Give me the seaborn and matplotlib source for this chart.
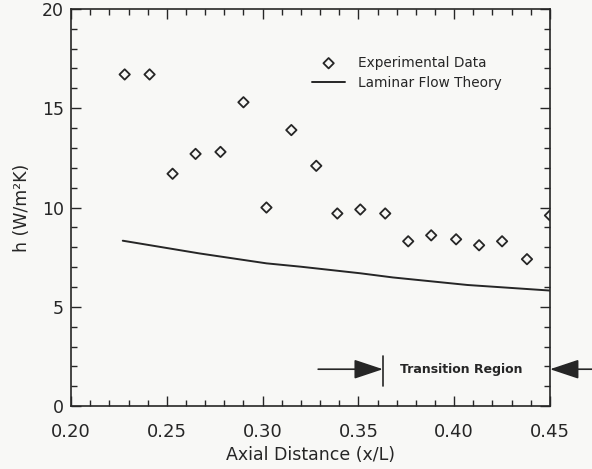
import matplotlib
matplotlib.use('Agg')
import matplotlib.pyplot as plt
import seaborn as sns
import pandas as pd
from matplotlib.ticker import MultipleLocator, FormatStrFormatter

# experimental points
exp_x = [0.228, 0.241, 0.253, 0.265, 0.278, 0.290, 0.302, 0.315, 0.328, 0.339,
         0.351, 0.364, 0.376, 0.388, 0.401, 0.413, 0.425, 0.438, 0.450]
exp_h = [16.7, 16.7, 11.7, 12.7, 12.8, 15.3, 10.0, 13.9, 12.1, 9.7,
         9.9, 9.7, 8.3, 8.6, 8.4, 8.1, 8.3, 7.4, 9.6]

# laminar flow theory curve
theory_x = [0.227, 0.267, 0.302, 0.320, 0.351, 0.368, 0.407, 0.450]
theory_h = [8.33, 7.69, 7.19, 7.02, 6.69, 6.48, 6.10, 5.82]

# transition region marker
trans_start = 0.3628
trans_y = 1.86

ink = '#262626'
paper = '#f8f8f6'

sns.set_style('ticks')
plt.rcParams['font.family'] = ['DejaVu Sans']

fig = plt.figure(figsize=(5.92, 4.69), dpi=100)
fig.patch.set_facecolor(paper)
ax = fig.add_axes([0.120, 0.134, 0.809, 0.847])
ax.set_facecolor(paper)

exp_df = pd.DataFrame({'x': exp_x, 'h': exp_h})
sns.scatterplot(data=exp_df, x='x', y='h', marker='D', s=28, facecolors='none',
                edgecolor=ink, linewidth=1.3, label='Experimental Data', ax=ax)
theory_df = pd.DataFrame({'x': theory_x, 'h': theory_h})
sns.lineplot(data=theory_df, x='x', y='h', color=ink, linewidth=1.4,
             label='Laminar Flow Theory', ax=ax)

ax.set_xlim(0.20, 0.45)
ax.set_ylim(0, 20)
ax.xaxis.set_major_locator(MultipleLocator(0.05))
ax.xaxis.set_minor_locator(MultipleLocator(0.01))
ax.xaxis.set_major_formatter(FormatStrFormatter('%.2f'))
ax.yaxis.set_major_locator(MultipleLocator(5))
ax.yaxis.set_minor_locator(MultipleLocator(1))
ax.tick_params(which='both', direction='in', top=True, right=True, color=ink, width=1.0)
ax.tick_params(which='major', length=7)
ax.tick_params(which='minor', length=4)
ax.tick_params(axis='x', labelsize=13, pad=12, labelcolor=ink)
ax.tick_params(axis='y', labelsize=12.5, pad=5, labelcolor=ink)
for sp in ax.spines.values():
    sp.set_color(ink)
    sp.set_linewidth(1.2)

ax.set_xlabel('Axial Distance (x/L)', fontsize=12.5, color=ink, labelpad=4)
ax.set_ylabel('h (W/m²K)', fontsize=12.5, color=ink, labelpad=8)

ax.legend(loc='upper left', bbox_to_anchor=(0.503, 0.882), frameon=False, fontsize=9.8,
          handlelength=2.45, handletextpad=0.95, labelspacing=0.42,
          borderaxespad=0, borderpad=0, labelcolor=ink)

# transition region arrows
arrow = dict(arrowstyle='-|>,head_length=0.9,head_width=0.3', color=ink, lw=1.2,
             mutation_scale=20, shrinkA=0, shrinkB=0)
ax.annotate('', xy=(trans_start, trans_y), xytext=(0.329, trans_y), arrowprops=arrow)
ax.plot([trans_start, trans_start], [1.0, 2.5], color=ink, lw=1.2)
ax.text(0.3717, trans_y, 'Transition Region', va='center', ha='left', fontsize=9,
        fontweight='semibold', color=ink)
ax.annotate('', xy=(0.45, trans_y), xytext=(0.4725, trans_y), arrowprops=arrow,
            annotation_clip=False)

fig.savefig('out.png', dpi=100, facecolor=paper)
